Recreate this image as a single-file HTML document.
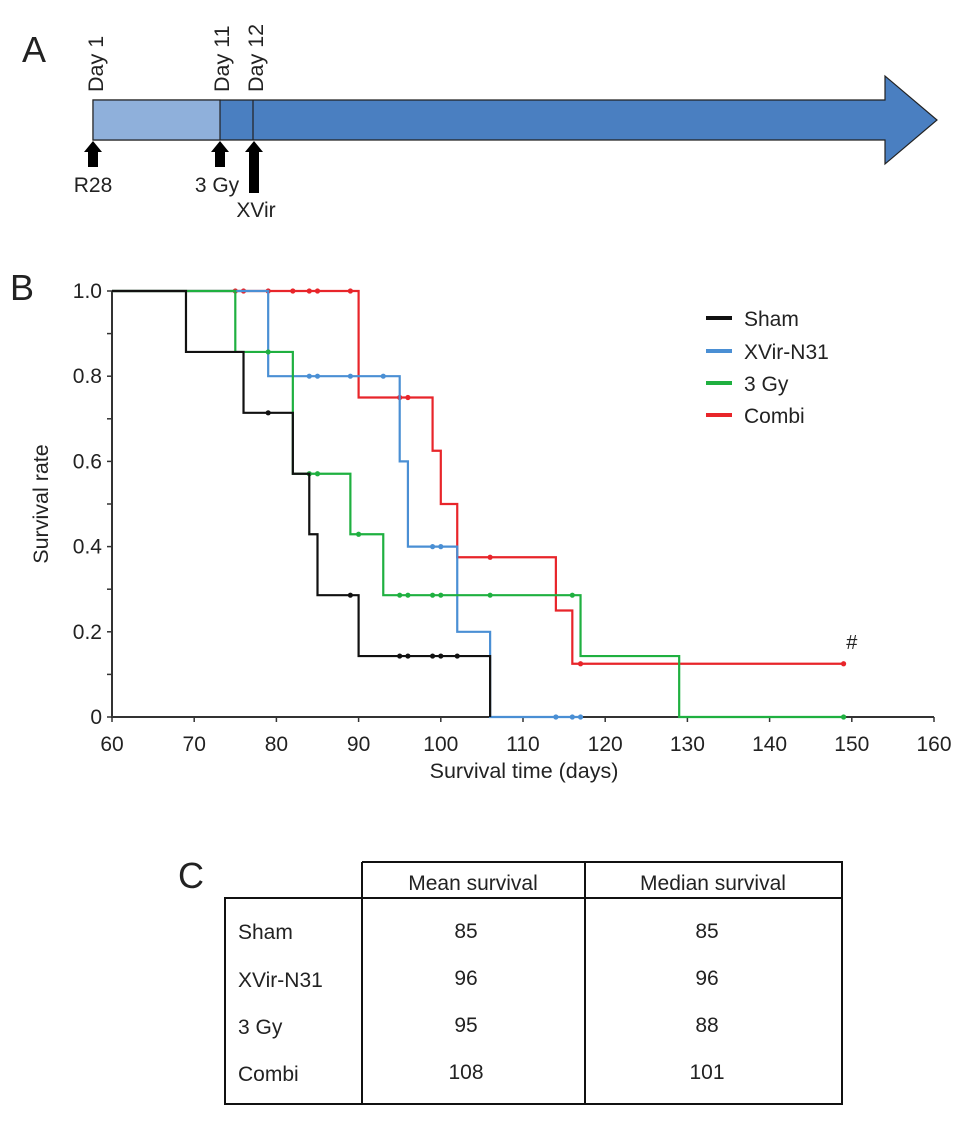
<!DOCTYPE html>
<html><head><meta charset="utf-8"><style>
body{margin:0;background:#fff;font-family:"Liberation Sans",sans-serif;}
svg text{font-family:"Liberation Sans",sans-serif;fill:#222;}
</style></head><body>
<svg id="fig" width="969" height="1118" viewBox="0 0 969 1118" xmlns="http://www.w3.org/2000/svg">
<g>
<text x="22" y="62" font-size="36">A</text>
<path d="M93,100 H885 V76 L937,120 L885,164 V140 H93 Z" fill="#4a7fc1" stroke="#222" stroke-width="1.2"/>
<rect x="93" y="100" width="127" height="40" fill="#8fb0db" stroke="#222" stroke-width="1.2"/>
<line x1="253" y1="100" x2="253" y2="140" stroke="#222" stroke-width="1.2"/>
<text transform="translate(103,92) rotate(-90)" font-size="21.5">Day 1</text>
<text transform="translate(229,92) rotate(-90)" font-size="21.5">Day 11</text>
<text transform="translate(263,92) rotate(-90)" font-size="21.5">Day 12</text>
<path d="M93,141 L102,152 H98 V167 H88 V152 H84 Z" fill="#000"/>
<path d="M220,141 L229,152 H225 V167 H215 V152 H211 Z" fill="#000"/>
<path d="M254,141 L263,152 H259 V193 H249 V152 H245 Z" fill="#000"/>
<text x="93" y="192" font-size="21" text-anchor="middle">R28</text>
<text x="217" y="192" font-size="21" text-anchor="middle">3 Gy</text>
<text x="256" y="217" font-size="21" text-anchor="middle">XVir</text>
</g>
<text x="10" y="300" font-size="36">B</text>
<g id="chart"></g>
<g>
<line x1="706" y1="318" x2="732" y2="318" stroke="#111" stroke-width="4"/><text x="744" y="326" font-size="21">Sham</text>
<line x1="706" y1="351" x2="732" y2="351" stroke="#4a8fd4" stroke-width="4"/><text x="744" y="359" font-size="21">XVir-N31</text>
<line x1="706" y1="383" x2="732" y2="383" stroke="#1fb040" stroke-width="4"/><text x="744" y="391" font-size="21">3 Gy</text>
<line x1="706" y1="415" x2="732" y2="415" stroke="#e8252a" stroke-width="4"/><text x="744" y="423" font-size="21">Combi</text>
</g>
<g>
<text x="178" y="888" font-size="36">C</text>
<path d="M362,862 H842 V1104 H225 V898 H842 M362,862 V1104 M585,862 V1104" fill="none" stroke="#111" stroke-width="2"/>
<text x="473" y="890" font-size="21" text-anchor="middle">Mean survival</text>
<text x="713" y="890" font-size="21" text-anchor="middle">Median survival</text>
<g font-size="21">
<text x="238" y="939">Sham</text><text x="466" y="938" text-anchor="middle">85</text><text x="707" y="938" text-anchor="middle">85</text>
<text x="238" y="987">XVir-N31</text><text x="466" y="985" text-anchor="middle">96</text><text x="707" y="985" text-anchor="middle">96</text>
<text x="238" y="1034">3 Gy</text><text x="466" y="1032" text-anchor="middle">95</text><text x="707" y="1032" text-anchor="middle">88</text>
<text x="238" y="1081">Combi</text><text x="466" y="1079" text-anchor="middle">108</text><text x="707" y="1079" text-anchor="middle">101</text>
</g>
</g>
</svg>
<script>
const xTicks=[60,70,80,90,100,110,120,130,140,150,160];
const yTicks=[0,0.2,0.4,0.6,0.8,1.0];
const yTickLabels=["0","0.2","0.4","0.6","0.8","1.0"];
const seriesNames=["Combi","XVir-N31","3 Gy","Sham"];
const seriesColors=["#e8252a","#4a8fd4","#1fb040","#111"];
// step events: [day, survival after]
const shamSteps=[[69,0.857],[76,0.714],[82,0.571],[84,0.429],[85,0.286],[90,0.143],[106,0]];
const shamCensor=[[79,0.714],[89,0.286],[95,0.143],[96,0.143],[99,0.143],[100,0.143],[102,0.143]];
const xvirSteps=[[79,0.8],[95,0.6],[96,0.4],[102,0.2],[106,0]];
const xvirCensor=[[84,0.8],[85,0.8],[89,0.8],[93,0.8],[99,0.4],[100,0.4],[114,0],[116,0],[117,0]];
const gySteps=[[75,0.857],[82,0.571],[89,0.429],[93,0.286],[117,0.143],[129,0]];
const gyCensor=[[79,0.857],[84,0.571],[85,0.571],[90,0.429],[95,0.286],[96,0.286],[99,0.286],[100,0.286],[106,0.286],[116,0.286],[149,0]];
const combiSteps=[[90,0.75],[99,0.625],[100,0.5],[102,0.375],[114,0.25],[116,0.125]];
const combiCensor=[[75,1],[76,1],[79,1],[82,1],[84,1],[85,1],[89,1],[95,0.75],[96,0.75],[106,0.375],[117,0.125],[149,0.125]];
const seriesSteps=[combiSteps,xvirSteps,gySteps,shamSteps];
const seriesCensor=[combiCensor,xvirCensor,gyCensor,shamCensor];
const seriesEnd=[149,117,149,106];

const NS="http://www.w3.org/2000/svg";
const X=d=>112+(d-60)*8.22;
const Y=v=>717-v*426;
const g=document.getElementById('chart');
function mk(t,a,p){const e=document.createElementNS(NS,t);for(const k in a)e.setAttribute(k,a[k]);(p||g).appendChild(e);return e;}
let ax=mk('path',{d:`M${X(60)},${Y(1)} V${Y(0)} H${X(160)}`,fill:'none',stroke:'#333','stroke-width':2});


for(let i=0;i<=10;i++){mk('line',{x1:X(60)-5,x2:X(60),y1:Y(i/10),y2:Y(i/10),stroke:'#333','stroke-width':1.5});}
yTicks.forEach((v,i)=>{const t=mk('text',{x:X(60)-10,y:Y(v)+7,'font-size':21,'text-anchor':'end'});t.textContent=yTickLabels[i];

});
xTicks.forEach(d=>{mk('line',{x1:X(d),x2:X(d),y1:Y(0),y2:Y(0)+5,stroke:'#333','stroke-width':1.5});
const t=mk('text',{x:X(d),y:Y(0)+34,'font-size':21,'text-anchor':'middle'});t.textContent=d;

});
let xt=mk('text',{x:524,y:778,'font-size':21.5,'text-anchor':'middle'});xt.textContent='Survival time (days)';


let yt=mk('text',{transform:'translate(48,504) rotate(-90)','font-size':21.5,'text-anchor':'middle'});yt.textContent='Survival rate';


seriesSteps.forEach((steps,s)=>{
 let d=`M${X(60)},${Y(1)}`;
 steps.forEach(([day,nv])=>{d+=` H${X(day)} V${Y(nv)}`;});
 d+=` H${X(seriesEnd[s])}`;
 const p=mk('path',{d,fill:'none',stroke:seriesColors[s],'stroke-width':2.2});
 
 
 seriesCensor[s].forEach(([day,sv])=>{const c=mk('circle',{cx:X(day),cy:Y(sv),r:2.6,fill:seriesColors[s]});
 
 });
});
let h=mk('text',{x:X(150),y:Y(0.125)-15,'font-size':20,'text-anchor':'middle'});h.textContent='#';


</script>
</body></html>
